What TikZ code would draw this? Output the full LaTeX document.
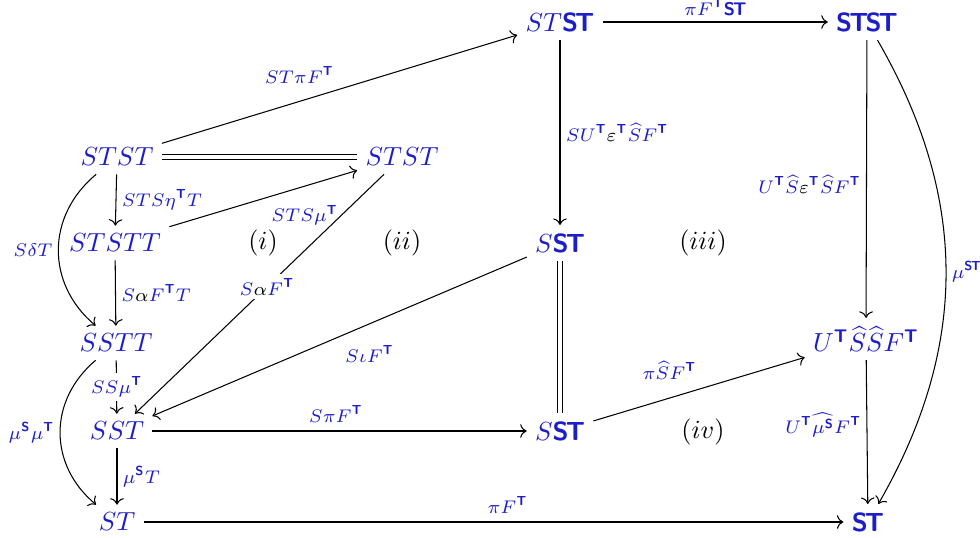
\documentclass[tikz,border=0pt]{standalone}
\usepackage{amsmath}
\usetikzlibrary{arrows.meta}
\definecolor{cdblue}{RGB}{30,30,200}
\newcommand{\bsf}{\normalfont\sffamily\bfseries}
\newcommand{\bST}{\text{\bsf S\kern-0.11em T}}
\newcommand{\bT}{\text{\bsf T}}
\newcommand{\bS}{\text{\bsf S}}
\newcommand{\blk}[1]{{\color{black}#1}}
\begin{document}
\begin{tikzpicture}[x=0.382pt,y=-0.382pt,
  obj/.style={text=cdblue, inner sep=3pt},
  lbl/.style={text=cdblue, font=\scriptsize, inner sep=2pt},
  onl/.style={lbl, fill=white, inner sep=1.5pt},
  reg/.style={text=black},
  arr/.style={->, line width=0.4pt},
  eq/.style={double, double distance=1.4pt, line width=0.4pt}]
\useasboundingbox (0,0) rectangle (980,538);
% nodes
\node[obj] (a) at (117,157) {$STST$};
\node[obj] (b) at (402,157) {$STST$};
\node[obj] (c) at (115,243) {$STSTT$};
\node[obj] (d) at (116,343) {$SSTT$};
\node[obj] (e) at (117,431) {$SST$};
\node[obj] (f) at (117,522) {$ST$};
\node[obj] (g) at (560,22) {$ST\bST$};
\node[obj] (h) at (867,22) {$\bST\kern-0.11em\bST$};
\node[obj] (m) at (560,243) {$S\bST$};
\node[obj] (n) at (560,431) {$S\bST$};
\node[obj] (u) at (866,339) {$U^{\bT}\widehat{S}\widehat{S}F^{\bT}$};
\node[obj] (z) at (868,522) {$\bST$};
% region labels
\node[reg] (r1) at (263,243) {$(i)$};
\node[reg] (r2) at (402,243) {$(ii)$};
\node[reg] (r3) at (703,243) {$(iii)$};
\node[reg] (r4) at (703,432) {$(iv)$};
% edges
\draw[arr] (a) -- node[lbl, pos=0.5, above left] {$ST\pi F^{\bT}$} (g);
\draw[eq] (a) -- (b);
\draw[arr] (a) -- node[lbl, right] {$STS\eta^{\bT}T$} (c);
\draw[arr] (c) -- node[lbl, pos=0.72, below=5pt] {$STS\mu^{\bT}$} (b);
\draw[arr] (b) -- node[onl, pos=0.47] {$S\blk{\alpha}F^{\bT}$} (e);
\draw[arr] (c) -- node[lbl, right] {$S\blk{\alpha}F^{\bT}T$} (d);
\draw[arr] (a) to[bend right=50, looseness=1.1] node[lbl, left] {$S\delta T$} (d);
\draw[arr] (d) -- node[onl] {$SS\mu^{\bT}$} (e);
\draw[arr] (d) to[bend right=50, looseness=1.1] node[lbl, left] {$\mu^{\bS}\mu^{\bT}$} (f);
\draw[arr] (e) -- node[lbl, right] {$\mu^{\bS}T$} (f);
\draw[arr] (m) -- node[lbl, pos=0.42, below=6pt] {$S\iota F^{\bT}$} (e);
\draw[arr] (e) -- node[lbl, pos=0.49, above=1pt] {$S\pi F^{\bT}$} (n);
\draw[arr] (f) -- node[lbl, pos=0.52, above=1pt] {$\pi F^{\bT}$} (z);
\draw[arr] (g) -- node[lbl, above=0pt] {$\pi F^{\bT}\bST$} (h);
\draw[arr] (g) -- node[lbl, pos=0.5, right] {$SU^{\bT}\blk{\varepsilon}^{\bT}\widehat{S}F^{\bT}$} (m);
\draw[eq] (m) -- (n);
\draw[arr] (n) -- node[lbl, pos=0.36, above=5pt] {$\pi\widehat{S}F^{\bT}$} (u);
\draw[arr] (h) -- node[lbl, pos=0.52, left] {$U^{\bT}\widehat{S}\blk{\varepsilon}^{\bT}\widehat{S}F^{\bT}$} (u);
\draw[arr] (u) -- node[lbl, pos=0.45, left] {$U^{\bT}\widehat{\mu^{\bS}}F^{\bT}$} (z);
\draw[arr] (h) to[bend left=30] node[lbl, right, pos=0.5] {$\mu^{\bST}$} (z);
\end{tikzpicture}
\end{document}
